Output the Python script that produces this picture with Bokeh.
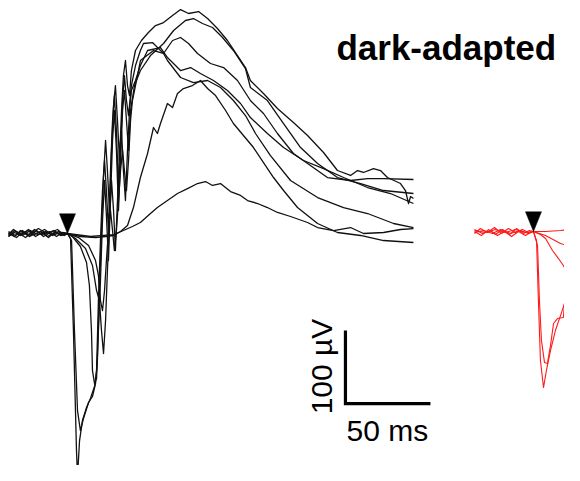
import math
from bokeh.plotting import figure
from bokeh.models import Range1d
from bokeh.embed import file_html
from bokeh.resources import INLINE
from bokeh.core.properties import value

# ---- data: time (ms from flash) vs ERG amplitude (µV) ----
# black = left panel (dark-adapted series)
black_1 = [(-34.7,-4.1),(-30.6,2.7),(-26.5,-2.7),(-21.8,4.1),(-17.6,-1.4),(-12.9,2.7),(-8.8,-2.7),(-4.1,1.4),(0,0),
           (1.8,-6.8),(3.5,-132.9),(5.3,-297.3),(5.9,-332.9),(7.1,-283.6),(8.8,-256.2),(11.2,-238.4),(13.5,-226),
           (15.9,-209.6),(17.1,-187.7),(18.2,-91.8),(19.4,-9.6),(20.6,58.9),(21.8,100),(22.9,58.9),(24.1,4.1),
           (25.3,86.3),(26.5,154.8),(27.6,189),(28.8,141.1),(30,58.9),(31.2,113.7),(32.4,182.2),(33.5,216.4),
           (34.7,182.2),(35.9,161.6),(37.6,202.7),(40,230.1),(42.9,250.7),(44.7,260.3),(50,261.6),(56.5,246.6),
           (61.8,264.4),(66.5,268.5),(71.2,260.3),(76.5,246.6),(84.1,232.9),(91.8,227.4),(100,209.6),(107.6,182.2),
           (115.3,164.4),(123.5,137),(132.9,109.6),(142.9,93.2),(152.9,76.7),(166.5,72.6),(176.5,75.3),(185.9,75.3),
           (203.5,74)]
black_2 = [(-34.7,1.4),(-31.2,-4.1),(-27.6,4.1),(-23.5,-2.7),(-19.4,5.5),(-15.3,-1.4),(-10.6,2.7),(-6.5,-4.1),(-2.9,1.4),(0,0),
           (2.4,-9.6),(4.1,-132.9),(5.9,-242.5),(7.6,-269.9),(9.4,-253.4),(12.4,-231.5),(14.7,-223.3),(16.5,-205.5),
           (17.6,-174),(18.8,-78.1),(20,4.1),(21.2,79.5),(22.4,127.4),(23.5,86.3),(24.7,31.5),(25.9,113.7),(27.1,175.3),
           (28.2,202.7),(29.4,154.8),(30.6,100),(31.8,168.5),(32.9,216.4),(34.1,237),(35.3,202.7),(36.5,189),
           (37.6,223.3),(40,250.7),(43.5,264.4),(47.6,275.3),(51.8,284.9),(56.5,289),(61.8,298.6),(66.5,306.8),
           (71.2,301.4),(77.1,304.1),(82.4,294.5),(88.2,280.8),(94.1,264.4),(100,243.8),(104.7,227.4),(107.6,209.6),
           (115.3,191.8),(123.5,171.2),(132.9,152.1),(141.2,134.2),(150.6,111),(158.8,86.3),(166.5,79.5),(170.6,86.3),
           (174.1,83.6),(180,89),(184.1,86.3),(188.2,76.7),(195.9,68.5),(198.8,58.9),(200.6,41.1),(201.8,50.7),
           (203.5,47.9)]
black_3 = [(-34.7,-1.4),(-31.8,5.5),(-28.2,0),(-24.7,-5.5),(-20.6,1.4),(-17.1,6.8),(-12.4,0),(-8.2,4.1),(-4.1,-2.7),(0,0),
           (2.9,-4.1),(7.6,-17.8),(11.2,-39.7),(12.9,-71.2),(14.1,-132.9),(14.7,-187.7),(15.9,-205.5),(17.1,-198.6),
           (18.2,-132.9),(19.4,-64.4),(20.6,17.8),(21.8,72.6),(22.9,24.7),(24.1,-37),(25.3,45.2),(26.5,127.4),
           (27.6,168.5),(28.8,113.7),(30,31.5),(31.2,100),(32.4,168.5),(33.5,195.9),(34.7,154.8),(35.9,113.7),
           (37.1,168.5),(39.4,202.7),(42.9,223.3),(48.8,243.8),(56.5,260.3),(62.4,278.1),(69.4,291.8),(74.1,294.5),
           (79.4,287.7),(85.3,282.2),(91.2,268.5),(97.6,250.7),(104.7,226),(107.6,200),(117.6,182.2),(127.1,150.7),
           (137.1,117.8),(147.1,95.9),(158.8,76.7),(172.4,68.5),(185.9,58.9),(203.5,54.8)]
black_4 = [(-34.7,0),(-30,-5.5),(-25.9,2.7),(-21.8,-2.7),(-18.2,4.1),(-14.1,-4.1),(-10,1.4),(-5.9,5.5),(-2.4,-1.4),(0,0),
           (4.7,-6.8),(10.6,-20.5),(14.7,-43.8),(17.1,-78.1),(18.8,-91.8),(20,-132.9),(21.2,-164.4),(22.4,-119.2),
           (23.5,-50.7),(24.7,17.8),(25.9,72.6),(27.1,31.5),(28.2,-23.3),(29.4,45.2),(30.6,113.7),(31.8,141.1),
           (32.9,86.3),(34.1,45.2),(35.3,113.7),(36.5,168.5),(37.6,195.9),(40,209.6),(42.9,230.1),(47.1,250.7),
           (54.7,254.8),(58.8,241.1),(66.5,223.3),(72.4,227.4),(78.2,219.2),(85.9,209.6),(94.1,195.9),(101.8,178.1),
           (107.6,158.9),(117.6,137),(127.1,117.8),(138.8,100),(150.6,89),(162.4,76.7),(176.5,63),(190,54.8),
           (203.5,41.1)]
black_5 = [(-34.7,-2.7),(-31.2,4.1),(-27.1,-1.4),(-22.9,5.5),(-18.8,-4.1),(-14.7,1.4),(-11.2,-5.5),(-7.1,2.7),(-3.5,-2.7),(0,0),
           (6.5,-5.5),(12.4,-16.4),(16.5,-37),(18.2,-57.5),(19.4,-91.8),(20.6,-105.5),(21.8,-78.1),(22.9,-37),
           (24.1,4.1),(25.3,31.5),(26.5,4.1),(27.6,-23.3),(28.8,4.1),(30,45.2),(31.2,86.3),(32.4,113.7),(33.5,86.3),
           (34.7,58.9),(35.9,100),(37.1,154.8),(38.2,182.2),(40,202.7),(42.9,237),(50.6,250.7),(56.5,246.6),
           (58.8,237),(66.5,213.7),(74.1,206.8),(82.4,209.6),(90,200),(97.6,182.2),(104.7,161.6),(110.6,137),
           (119.4,106.8),(131.2,72.6),(147.1,49.3),(162.4,35.6),(176.5,27.4),(191.8,13.7),(203.5,8.2)]
black_6 = [(-34.7,2.7),(-30.6,-2.7),(-26.5,4.1),(-22.4,-4.1),(-18.2,0),(-13.5,5.5),(-9.4,-1.4),(-5.3,2.7),(-1.8,-2.7),(0,0),
           (7.6,-4.1),(16.5,-5.5),(22.4,-4.1),(27.1,-2.7),(31.2,2.7),(35.3,11),(38.8,35.6),(42.9,76.7),(47.1,109.6),
           (50.6,145.2),(52.9,137),(54.7,150.7),(58.8,178.1),(61.8,172.6),(64.7,191.8),(68.2,198.6),(73.5,202.7),
           (78.2,209.6),(82.4,198.6),(87.1,189),(93,168.5),(97.6,150.7),(109.4,117.8),(121.2,76.7),(127.1,58.9),
           (135.3,35.6),(147.1,13.7),(158.8,1.4),(172.4,-2.7),(185.9,-9.6),(203.5,-12.3)]
black_7 = [(-34.7,-4.1),(-31.2,1.4),(-27.6,-2.7),(-23.5,4.1),(-20,-1.4),(-15.9,2.7),(-11.8,-4.1),(-7.6,1.4),(-3.5,-1.4),(0,0),
           (13.5,-4.1),(27.1,-1.4),(32.9,4.1),(38.2,9.6),(42.9,15.1),(48.8,27.4),(52.9,35.6),(58.8,45.2),(64.7,54.8),
           (70.6,61.6),(76.5,68.5),(81.2,71.2),(85.3,65.8),(90,68.5),(95.9,57.5),(101.8,52.1),(105.9,45.2),
           (111.8,41.1),(117.6,35.6),(123.5,28.8),(131.2,23.3),(141.2,15.1),(147.1,8.2),(156.5,4.1),(166.5,8.2),
           (174.1,0),(185.9,1.4),(195.9,5.5),(203.5,6.8)]

# red = right panel (cut at the window edge)
red_1 = [(-34.7,-2.7),(-31.2,4.1),(-27.1,-1.4),(-22.9,5.5),(-18.8,-2.7),(-14.7,4.1),(-10.6,-1.4),(-6.5,2.7),(-2.9,-1.4),(0,0),
         (1.8,-12.3),(2.9,-94.5),(4.1,-176.7),(5.9,-213.7),(7.6,-190.4),(10,-163),(12.9,-135.6),(15.9,-115.1),
         (18.8,-94.5),(21.8,-80.8),(24.7,-74),(27.6,-67.1)]
red_2 = [(-34.7,0),(-30.6,-5.5),(-26.5,2.7),(-22.4,-4.1),(-18.2,2.7),(-14.1,-4.1),(-10,4.1),(-5.9,-2.7),(-2.4,1.4),(0,0),
         (2.4,-19.2),(3.5,-94.5),(4.7,-149.3),(6.5,-179.5),(8.2,-180.8),(10,-156.2),(11.8,-126),(14.1,-119.2),
         (17.6,-117.8),(18.8,-80.8),(20,-53.4),(21.8,-49.3),(23.5,-71.2),(24.7,-94.5),(25.9,-98.6),(27.6,-74)]
red_3 = [(-34.7,2.7),(-30,-2.7),(-25.3,1.4),(-21.2,-5.5),(-17.1,0),(-12.9,-6.8),(-8.8,0),(-4.7,-5.5),(-1.8,-1.4),(0,0),
         (4.1,-4.1),(7.1,-9.6),(11.2,-26),(14.7,-37),(17.6,-46.6),(20.6,-60.3),(22.4,-74),(23.5,-101.4),
         (24.7,-80.8),(25.9,-26),(26.5,42.5),(27.6,69.9)]
red_4 = [(-34.7,-1.4),(-29.4,1.4),(-24.1,-2.7),(-19.4,2.7),(-13.5,-2.7),(-7.6,1.4),(-2.9,-2.7),(0,0),
         (7.1,-5.5),(15.9,-16.4),(25.9,-23.3),(27.6,-24.7)]
red_5 = [(-34.7,1.4),(-28.2,-1.4),(-22.4,2.7),(-16.5,-1.4),(-10.6,2.7),(-4.7,-1.4),(0,0),
         (7.1,0),(15.9,1.4),(26.5,4.1),(27.6,4.1)]

black_traces = [black_1, black_2, black_3, black_4, black_5, black_6, black_7]
red_traces = [red_1, red_2, red_3, red_4, red_5]

flash_time = 0.0
scale_time_ms = 50
scale_amp_uv = 100
title_text = "dark-adapted"
time_label = "50 ms"
amp_label = "100 µV"

# ---- layout (panel placement) ----
red_dx, red_dy = 274.1, 2.7
arrow_half_w, arrow_h = 4.7, 27.0
sb_x, sb_y = 163.5, -233.0

p = figure(width=564, height=465, output_backend="svg", toolbar_location=None,
           x_range=Range1d(-39.4, 292.35), y_range=Range1d(-317.8, 319.2),
           x_axis_type=None, y_axis_type=None, min_border=0)
p.xgrid.visible = False
p.ygrid.visible = False
p.outline_line_color = None
p.background_fill_color = "white"
p.border_fill_color = "white"

for tr in black_traces:
    p.line([t for t, v in tr], [v for t, v in tr], line_color="#111111",
           line_width=1.3, line_join="round")
for tr in red_traces:
    p.line([t + red_dx for t, v in tr], [v + red_dy for t, v in tr], line_color="#ff1a1a",
           line_width=1.1, line_join="round")

# flash markers
for dx, dy in [(0.0, 0.0), (red_dx, red_dy)]:
    fx = flash_time + dx
    p.patch([fx - arrow_half_w, fx + arrow_half_w, fx], [dy + arrow_h, dy + arrow_h, dy],
            fill_color="black", line_color="black", line_width=0.5)

# scale bar
p.line([sb_x, sb_x, sb_x + scale_time_ms], [sb_y + scale_amp_uv, sb_y, sb_y],
       line_color="black", line_width=3.2, line_join="miter", line_cap="butt")

p.text(x=[164.1], y=[-269.9], text=[time_label], text_font=value("Liberation Sans"),
       text_font_size="30px", text_align="left", text_baseline="alphabetic", text_color="black")
p.text(x=[149.4], y=[-182.2], text=[amp_label], angle=math.pi / 2,
       text_font=value("Liberation Sans"), text_font_size="30px", text_align="center",
       text_baseline="alphabetic", text_color="black")
p.text(x=[158.2], y=[254.8], text=[title_text], text_font=value("Liberation Sans"),
       text_font_size="35px", text_font_style="bold", text_align="left",
       text_baseline="alphabetic", text_color="black")

open("out.html", "w").write(file_html(p, INLINE))
